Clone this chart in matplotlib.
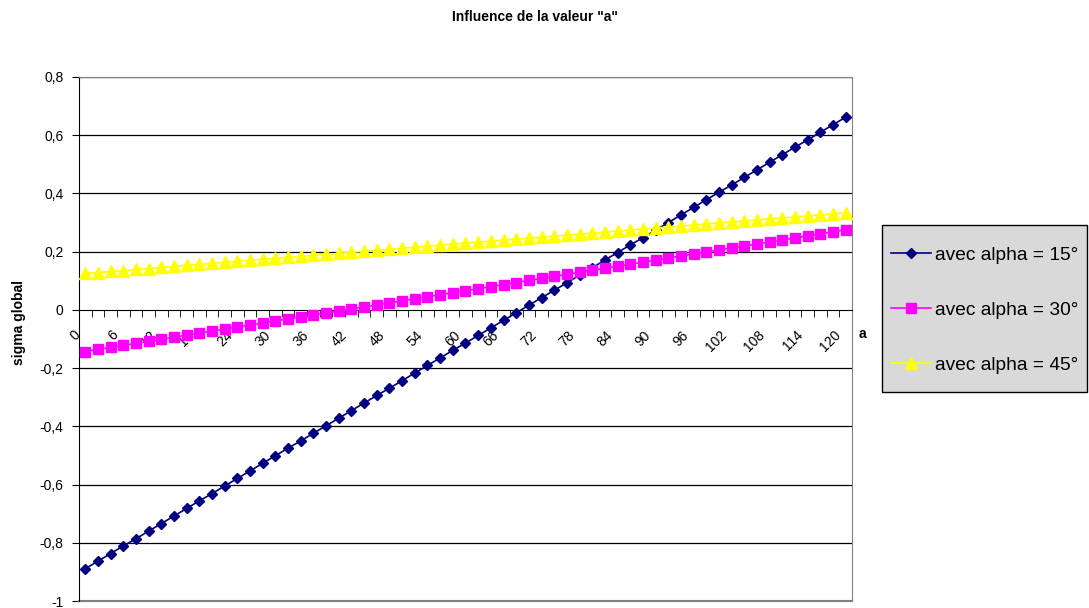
import matplotlib
matplotlib.use("Agg")
import matplotlib.pyplot as plt
import matplotlib.transforms as mtransforms
from matplotlib.patches import Rectangle
from matplotlib.ticker import FixedLocator, FuncFormatter

plt.rcParams['font.family'] = ['Liberation Sans', 'DejaVu Sans']

# categories (valeur de "a")
a_values = list(range(0, 121, 2))

sigma_15 = [-0.889, -0.863, -0.837, -0.811, -0.786, -0.760, -0.734, -0.708, -0.682, -0.656,
            -0.631, -0.605, -0.579, -0.553, -0.527, -0.501, -0.475, -0.450, -0.424, -0.398,
            -0.372, -0.346, -0.320, -0.294, -0.269, -0.243, -0.217, -0.191, -0.165, -0.139,
            -0.114, -0.088, -0.062, -0.036, -0.010, 0.016, 0.042, 0.067, 0.093, 0.119,
            0.145, 0.171, 0.197, 0.223, 0.248, 0.274, 0.300, 0.326, 0.352, 0.378,
            0.404, 0.429, 0.455, 0.481, 0.507, 0.533, 0.559, 0.584, 0.610, 0.636,
            0.662]

sigma_30 = [-0.143, -0.136, -0.129, -0.122, -0.115, -0.108, -0.101, -0.094, -0.087, -0.080,
            -0.073, -0.066, -0.059, -0.052, -0.045, -0.038, -0.031, -0.024, -0.018, -0.011,
            -0.004, 0.003, 0.010, 0.017, 0.024, 0.031, 0.038, 0.045, 0.052, 0.059,
            0.066, 0.073, 0.080, 0.087, 0.094, 0.101, 0.108, 0.115, 0.122, 0.129,
            0.136, 0.143, 0.150, 0.157, 0.164, 0.171, 0.178, 0.185, 0.192, 0.199,
            0.206, 0.213, 0.219, 0.226, 0.233, 0.240, 0.247, 0.254, 0.261, 0.268,
            0.275]

sigma_45 = [0.125, 0.128, 0.132, 0.135, 0.139, 0.142, 0.146, 0.149, 0.153, 0.156,
            0.160, 0.163, 0.167, 0.170, 0.174, 0.177, 0.181, 0.184, 0.187, 0.191,
            0.194, 0.198, 0.201, 0.205, 0.208, 0.212, 0.215, 0.219, 0.222, 0.226,
            0.229, 0.233, 0.236, 0.240, 0.243, 0.246, 0.250, 0.253, 0.257, 0.260,
            0.264, 0.267, 0.271, 0.274, 0.278, 0.281, 0.285, 0.288, 0.292, 0.295,
            0.299, 0.302, 0.305, 0.309, 0.312, 0.316, 0.319, 0.323, 0.326, 0.330,
            0.333]

labels = ["avec alpha = 15°", "avec alpha = 30°", "avec alpha = 45°"]
y_ticks = [-1, -0.8, -0.6, -0.4, -0.2, 0, 0.2, 0.4, 0.6, 0.8]

fig = plt.figure(figsize=(10.89, 6.08), dpi=100)
ax = fig.add_axes([0.0725, 0.0115, 0.7099, 0.8619])

x = list(range(len(a_values)))

# gridlines
for yv in y_ticks[1:]:
    if yv != 0:
        ax.axhline(yv, color='black', lw=0.9, zorder=1)

ax.plot(x, sigma_15, color='#000080', marker='D', ms=5.5, lw=1.2, label=labels[0], zorder=3)
ax.plot(x, sigma_30, color='#FF00FF', marker='s', ms=6.5, lw=1.2, label=labels[1], zorder=3)
ax.plot(x, sigma_45, color='#FFFF00', marker='^', ms=8, lw=1.2, label=labels[2], zorder=3)

ax.set_xlim(-0.5, len(a_values) - 0.5)
ax.set_ylim(-1, 0.8)

# spines: plot area border grey, x axis at zero
for s in ['top', 'right']:
    ax.spines[s].set_color('#808080')
ax.spines['left'].set_color('black')
ax.spines['bottom'].set_position(('data', 0))
ax.spines['bottom'].set_color('black')
ax.plot([-0.5, len(a_values) - 0.5], [-1, -1], color='#808080', lw=1.5, clip_on=False, zorder=2)

ax.set_yticks(y_ticks)
ax.yaxis.set_major_formatter(FuncFormatter(lambda v, p: ('%g' % round(v, 1)).replace('.', ',')))
ax.tick_params(axis='y', direction='out', length=5, labelsize=10, pad=6)

ax.xaxis.set_major_locator(FixedLocator(list(range(0, len(a_values), 3))))
ax.set_xticklabels([str(a_values[i]) for i in range(0, len(a_values), 3)],
                   rotation=45, ha='right', rotation_mode='anchor')
ax.xaxis.set_minor_locator(FixedLocator([i - 0.5 for i in range(len(a_values) + 1)]))
ax.tick_params(axis='x', which='major', length=0, labelsize=10, pad=13)
ax.tick_params(axis='x', which='minor', direction='out', length=5)
shift = mtransforms.ScaledTranslation(-0.12, 0, fig.dpi_scale_trans)
for lab in ax.get_xticklabels():
    lab.set_transform(lab.get_transform() + shift)

fig.text(0.491, 0.972, 'Influence de la valeur "a"', ha='center', va='center',
         fontsize=10, fontweight='bold')
fig.text(0.017, 0.47, 'sigma global', rotation=90, ha='center', va='center',
         fontsize=10, fontweight='bold')
fig.text(0.792, 0.45, 'a', ha='center', va='center', fontsize=10, fontweight='bold')

# legend box drawn by hand, entries without frame
fig.patches.append(Rectangle((882 / 1089, 1 - 392 / 608), 205 / 1089, 167 / 608,
                             transform=fig.transFigure, facecolor='#d9d9d9',
                             edgecolor='black', lw=1.0, zorder=0))
leg = fig.legend(loc='center left', bbox_to_anchor=(891 / 1089, 1 - 310 / 608), fontsize=13.8,
                 frameon=False, labelspacing=1.95, handlelength=2.1, handletextpad=0.2,
                 borderpad=0, borderaxespad=0)

plt.savefig('out.png', dpi=100)
